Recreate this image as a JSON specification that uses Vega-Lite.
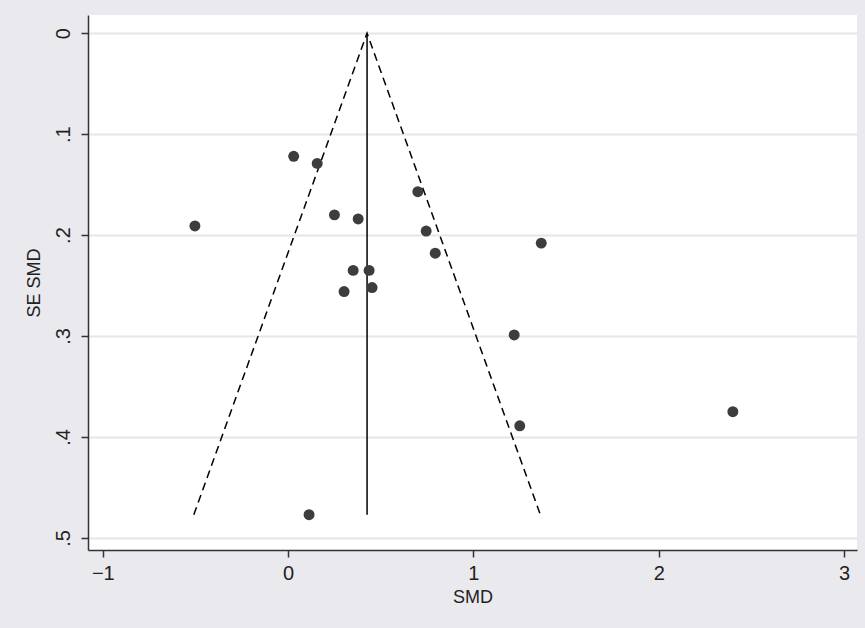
{
  "$schema": "https://vega.github.io/schema/vega-lite/v6.json",
  "width": 769,
  "height": 535,
  "padding": {"left": 88, "top": 15, "right": 8, "bottom": 78},
  "autosize": "none",
  "background": "#eaeaee",
  "config": {
    "view": {"fill": "white", "stroke": null},
    "axis": {"labelFontSize": 20, "titleFontSize": 18, "titleFontWeight": "normal", "labelFont": "Liberation Sans", "titleFont": "Liberation Sans", "labelColor": "#222222", "titleColor": "#222222", "domainColor": "#333333", "domainWidth": 1.5, "tickColor": "#333333", "tickWidth": 1.5, "tickSize": 7}
  },
  "datasets": {
    "studies": [
      {"smd": 0.03, "se": 0.122}, {"smd": 0.157, "se": 0.129}, {"smd": 0.70, "se": 0.157},
      {"smd": 0.25, "se": 0.180}, {"smd": 0.378, "se": 0.184}, {"smd": -0.503, "se": 0.191},
      {"smd": 0.745, "se": 0.196}, {"smd": 1.366, "se": 0.208}, {"smd": 0.794, "se": 0.218},
      {"smd": 0.351, "se": 0.235}, {"smd": 0.437, "se": 0.235}, {"smd": 0.302, "se": 0.256},
      {"smd": 0.453, "se": 0.252}, {"smd": 1.22, "se": 0.299}, {"smd": 2.40, "se": 0.375},
      {"smd": 1.25, "se": 0.389}, {"smd": 0.113, "se": 0.477}
    ],
    "funnel": [
      {"smd": -0.509, "se": 0.477, "o": 1},
      {"smd": 0.426, "se": 0, "o": 2},
      {"smd": 1.361, "se": 0.477, "o": 3}
    ],
    "pooled": [{"smd": 0.426, "se": 0, "se2": 0.477}]
  },
  "layer": [
    {
      "data": {"name": "funnel"},
      "mark": {"type": "line", "color": "black", "strokeDash": [8, 5], "strokeWidth": 1.5},
      "encoding": {
        "x": {"field": "smd", "type": "quantitative", "scale": {"domain": [-1.08, 3.07], "nice": false, "zero": false},
          "axis": {"values": [-1, 0, 1, 2, 3], "title": "SMD", "grid": false, "labelPadding": 6, "titlePadding": 5, "format": "d"}},
        "y": {"field": "se", "type": "quantitative", "scale": {"domain": [-0.018, 0.512], "nice": false, "zero": false, "reverse": true},
          "axis": {"values": [0, 0.1, 0.2, 0.3, 0.4, 0.5], "title": "SE SMD", "grid": true, "gridColor": "#e6e6e6", "gridWidth": 2, "labelAngle": 270, "labelAlign": "center", "labelBaseline": "bottom", "labelPadding": 8, "titlePadding": 10, "labelExpr": "datum.value == 0 ? '0' : replace(format(datum.value, '.1f'), '0.', '.')"}},
        "order": {"field": "o"}
      }
    },
    {
      "data": {"name": "pooled"},
      "mark": {"type": "rule", "color": "black", "strokeWidth": 1.5},
      "encoding": {
        "x": {"field": "smd", "type": "quantitative"},
        "y": {"field": "se", "type": "quantitative"},
        "y2": {"field": "se2"}
      }
    },
    {
      "data": {"name": "studies"},
      "mark": {"type": "circle", "color": "#3d3d3d", "opacity": 1, "size": 120},
      "encoding": {
        "x": {"field": "smd", "type": "quantitative"},
        "y": {"field": "se", "type": "quantitative"}
      }
    }
  ]
}
